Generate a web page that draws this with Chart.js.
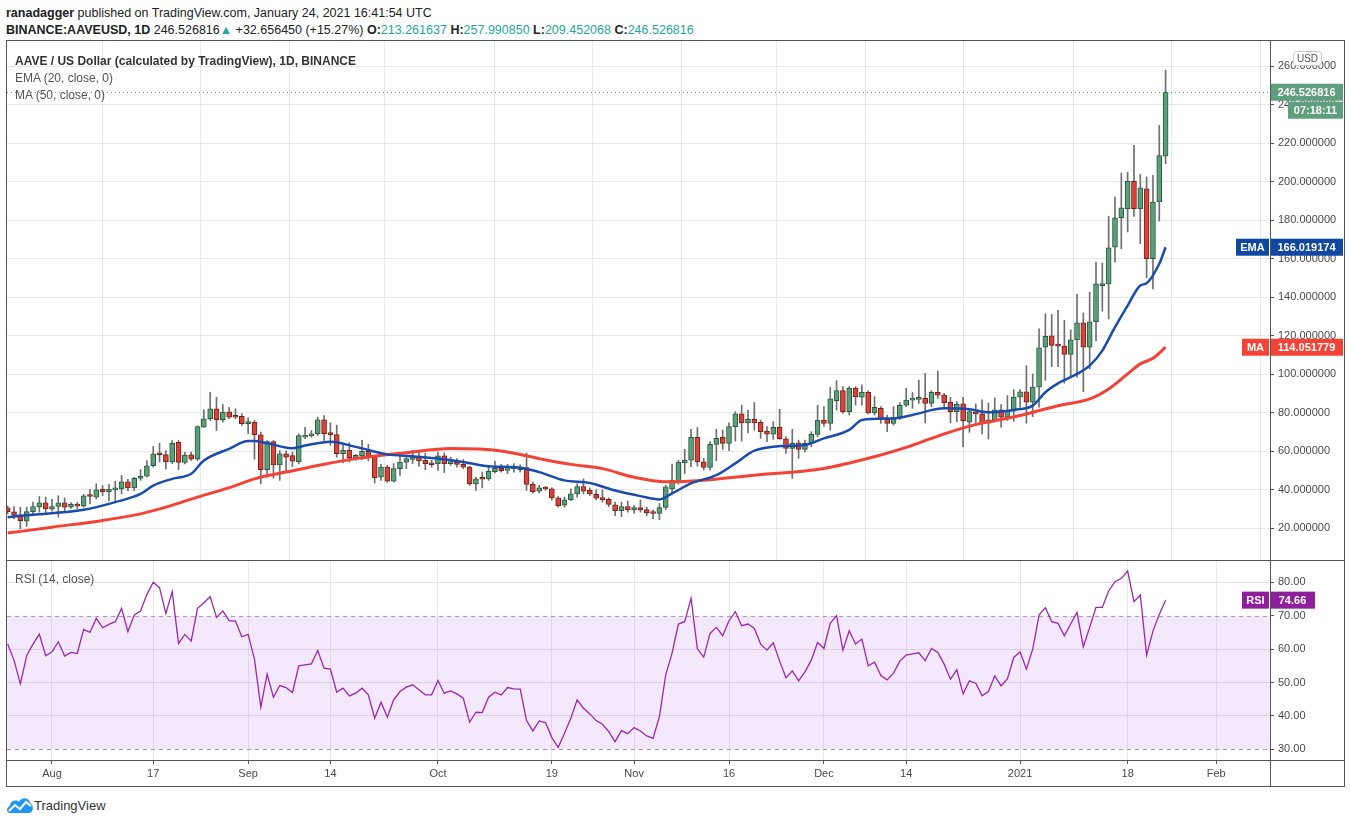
<!DOCTYPE html>
<html>
<head>
<meta charset="utf-8">
<script src="https://cdn.jsdelivr.net/npm/chart.js@4.4.0/dist/chart.umd.min.js"></script>
<style>
  body { margin: 0; background: #fff; width: 1351px; height: 824px; overflow: hidden;
         font-family: "Liberation Sans", Arial, sans-serif; color: #222; }
  .abs { position: absolute; }
  .ln { position: absolute; background: #555; }
  .hdr { position: absolute; left: 6px; font-size: 12.5px; white-space: nowrap; line-height: 14px; }
  .hdr b { font-weight: bold; }
  .up { color: #26a69a; }
  .leg { position: absolute; left: 15px; font-size: 12px; color: #555; white-space: nowrap; line-height: 14px; }
</style>
</head>
<body>
<div class="hdr" style="top:6px"><b>ranadagger</b> published on TradingView.com, January 24, 2021 16:41:54 UTC</div>
<div class="hdr" style="top:23px"><b>BINANCE:AAVEUSD, 1D</b> 246.526816<span class="up">&#9650;</span> +32.656450 (+15.27%) <b>O:</b><span class="up">213.261637</span> <b>H:</b><span class="up">257.990850</span> <b>L:</b><span class="up">209.452068</span> <b>C:</b><span class="up">246.526816</span></div>

<div class="abs" style="left:7px;top:41px;width:1337px;height:519px"><canvas id="priceChart" width="1337" height="519"></canvas></div>
<div class="abs" style="left:7px;top:561px;width:1337px;height:225px"><canvas id="rsiChart" width="1337" height="225"></canvas></div>

<div class="leg" style="top:54px;color:#333;font-weight:bold;font-size:12px">AAVE / US Dollar (calculated by TradingView), 1D, BINANCE</div>
<div class="leg" style="top:71px">EMA (20, close, 0)</div>
<div class="leg" style="top:88px">MA (50, close, 0)</div>
<div class="leg" style="top:572px">RSI (14, close)</div>

<div class="ln" style="left:6px;top:40px;width:1339px;height:1px"></div>
<div class="ln" style="left:6px;top:560px;width:1339px;height:1px"></div>
<div class="ln" style="left:6px;top:760px;width:1339px;height:1px"></div>
<div class="ln" style="left:6px;top:786px;width:1339px;height:1px"></div>
<div class="ln" style="left:6px;top:40px;width:1px;height:747px"></div>
<div class="ln" style="left:1270px;top:40px;width:1px;height:747px"></div>
<div class="ln" style="left:1344px;top:40px;width:1px;height:747px"></div>

<svg class="abs" style="left:6px;top:796px" width="28" height="18" viewBox="0 0 28 18">
  <path d="M4 17 C0 17 0 11 4 10 C4 5 10 3 13 6 C15 1 23 1 24 7 C28 8 28 17 23 17 Z" fill="#2196f3"/>
  <polyline points="3,15 9,9 14,13 20,6 25,10" fill="none" stroke="#fff" stroke-width="2"/>
</svg>
<div class="abs" style="left:34px;top:798px;font-size:13px;color:#333">TradingView</div>

<script>
// day offsets from 1 Aug 2020 (Jul 25 = -7, Jan 24 = 176)
const firstDay = -7;
const tickDays = [0, 16, 31, 44, 61, 79, 92, 107, 122, 135, 153, 170, 184];
const tickLabels = ['Aug', '17', 'Sep', '14', 'Oct', '19', 'Nov', '16', 'Dec', '14', '2021', '18', 'Feb'];
const priceTicks = [20, 40, 60, 80, 100, 120, 140, 160, 180, 200, 220, 240, 260];
const rsiTicks = [30, 40, 50, 60, 70, 80];

const opens = [30.6,28.6,27.0,23.7,28.7,31.1,33.2,29.9,31.3,33.2,31.0,32.4,31.5,36.9,36.2,40.2,39.0,40.0,40.4,44.2,
  41.0,45.9,47.1,52.5,58.7,58.3,54.5,64.6,54.2,58.2,55.9,72.5,76.9,82.1,76.4,80.5,78.1,78.1,74.3,75.1,
  68.6,50.4,65.1,52.9,58.7,57.8,54.5,67.4,68.0,69.1,76.4,69.2,68.7,58.8,60.5,56.7,57.6,60.0,57.4,46.6,
  51.8,44.5,51.0,54.4,55.8,57.0,55.3,53.9,53.6,57.7,53.6,54.3,53.2,51.8,43.1,45.8,45.7,49.4,51.1,50.1,
  51.0,50.4,51.5,42.8,39.3,41.0,40.5,35.8,32.0,34.8,37.9,41.7,39.7,37.6,36.0,35.0,32.2,29.1,31.3,29.6,
  30.8,29.7,28.3,27.7,30.8,40.5,44.1,54.0,55.4,67.2,54.5,51.6,63.6,67.2,64.1,72.8,79.4,74.8,76.6,75.2,
  70.5,68.9,72.4,66.5,61.5,64.4,61.0,64.1,68.8,76.2,74.5,86.3,91.5,80.6,92.7,88.1,90.6,80.0,82.3,76.6,
  74.5,77.6,83.9,86.6,87.0,87.5,84.9,90.6,89.2,85.4,80.6,84.6,75.1,80.5,79.4,74.6,76.3,81.5,77.7,80.8,
  88.1,90.9,85.5,93.3,114.1,120.0,115.5,114.6,110.3,117.9,126.7,114.1,127.3,146.1,147.0,166.1,181.3,186.0,200.2,186.0,
  196.4,160.0,189.5,213.261637];
const highs = [31.5,31.3,31.0,31.0,33.6,36.5,36.2,35.0,36.9,35.8,33.4,33.4,37.6,40.3,43.1,42.2,42.8,44.5,47.5,45.5,
  46.6,50.5,55.2,62.5,64.2,60.4,65.6,65.6,59.4,59.6,73.2,81.6,90.7,88.1,84.3,82.9,82.1,79.5,77.4,76.0,
  70.0,65.6,65.6,60.4,60.2,59.6,69.1,72.5,70.8,77.7,78.6,74.8,73.6,63.1,64.5,58.4,65.7,63.7,57.9,53.2,
  52.7,53.6,57.9,57.9,60.5,60.5,59.1,55.3,59.7,59.1,57.0,56.2,55.7,52.2,46.6,49.2,51.8,54.8,53.2,53.2,
  53.6,53.0,59.1,44.0,42.3,41.7,41.0,36.5,36.2,40.5,43.1,45.7,41.0,40.0,40.0,35.8,33.6,33.6,34.1,31.8,
  34.8,31.0,29.4,32.9,42.4,53.3,55.4,61.0,71.4,72.4,56.3,65.0,71.4,71.0,74.8,80.6,84.0,81.4,85.3,76.2,
  72.8,75.4,81.8,67.6,71.4,65.8,65.8,70.2,84.0,83.2,93.2,96.7,93.6,93.6,93.6,94.4,91.5,88.4,83.2,78.8,
  83.2,85.3,92.7,90.5,97.0,100.5,91.5,101.7,90.1,88.0,85.8,88.0,82.0,84.6,86.7,85.0,87.7,84.3,88.9,92.0,
  92.0,104.5,100.2,123.6,131.5,131.1,133.2,128.0,123.1,141.5,131.9,142.7,158.3,157.8,182.0,192.1,204.5,205.0,218.9,203.8,
  202.5,203.3,229.3,257.990850];
const lows = [27.5,24.9,19.7,21.0,26.6,28.4,27.9,28.9,25.8,28.9,30.3,30.1,31.0,32.7,35.3,37.0,34.4,33.6,37.9,39.6,
  39.6,44.9,46.6,51.8,54.4,50.7,53.5,50.4,53.5,55.2,55.2,72.5,76.0,70.8,75.2,76.9,76.9,73.4,69.1,55.9,
  43.1,46.6,46.1,44.9,49.2,52.1,53.5,66.5,67.4,68.2,65.6,63.1,57.0,53.9,54.4,55.3,55.7,55.0,43.5,44.9,
  44.0,44.0,47.5,51.0,53.6,52.2,50.4,51.8,50.1,49.0,52.7,51.8,51.0,42.3,39.7,41.0,44.9,48.7,49.2,48.4,
  49.2,49.2,39.7,38.3,38.3,39.7,34.8,31.0,31.0,34.4,36.2,37.9,37.0,34.8,33.6,31.3,26.6,26.1,28.4,27.8,
  28.4,26.6,25.0,24.5,29.7,38.1,42.9,48.5,52.0,52.3,50.2,50.2,55.1,61.0,60.3,65.3,65.3,69.6,71.0,66.7,
  65.0,66.2,66.2,58.9,45.9,56.3,59.7,62.4,67.6,73.1,71.0,81.4,79.7,78.8,84.0,84.0,79.4,78.8,74.5,70.2,
  73.6,76.6,83.2,82.3,84.9,74.8,83.2,87.5,83.2,74.8,75.4,62.4,69.9,74.2,69.0,66.4,75.6,72.5,76.0,75.6,
  82.9,74.6,78.0,82.9,96.8,104.0,104.0,95.4,98.8,98.5,91.0,102.8,117.5,132.8,128.8,158.3,165.2,173.9,182.0,167.8,
  150.1,144.4,179.6,209.452068];
const closes = [28.7,26.8,23.9,28.7,31.3,33.2,30.1,31.3,33.2,31.0,32.4,31.5,36.9,36.5,40.0,39.0,40.2,40.6,44.2,41.0,
  45.9,46.9,52.5,58.7,58.2,54.5,64.2,54.2,58.0,55.9,72.9,76.9,82.1,76.4,80.4,77.7,77.7,74.3,75.5,68.6,
  50.4,65.1,52.9,58.7,57.0,54.9,68.2,68.2,69.1,76.4,69.1,68.7,58.8,60.5,56.7,57.9,60.0,57.0,46.3,51.8,
  44.5,51.0,54.4,56.2,57.0,55.0,53.6,53.0,57.7,53.6,54.3,53.2,51.8,43.1,45.7,45.5,49.6,51.1,49.9,52.0,
  52.0,51.8,42.8,39.0,41.0,40.4,35.8,31.7,34.8,37.9,41.7,39.3,37.9,35.7,34.8,32.4,29.1,31.3,29.6,30.8,
  29.6,28.0,27.7,30.8,41.5,45.0,54.4,55.4,67.2,54.5,51.6,63.6,66.7,64.1,72.8,79.4,74.8,76.6,74.8,70.2,
  68.9,72.4,66.5,61.5,64.1,61.0,64.1,68.8,76.2,74.5,87.2,91.5,80.6,92.7,88.4,90.6,80.0,82.8,76.6,74.5,
  77.6,83.9,86.6,87.0,87.5,84.9,90.6,89.1,85.3,80.6,84.4,75.9,80.6,79.4,74.6,76.3,81.5,77.7,80.8,88.1,
  90.9,85.5,93.3,113.7,119.7,115.0,114.6,110.3,117.9,126.7,114.1,127.3,147.0,147.0,165.7,181.3,186.5,200.2,186.0,196.9,
  160.0,189.5,213.6,246.526816];

// EMA 20 and MA 50: [day, value]
const emaLine = [[-7,25.8],[-3,27],[5,29.6],[10,33.6],[14,37.9],[16,42.2],[19,45.7],[22,48.3],[24,55.2],[28,61.3],
  [31,65.3],[32,65.3],[34,64.2],[38,61.6],[40,63],[44,65],[48,62.3],[53,58.4],[57,57.4],[61,56.2],[65,54.4],
  [69,52.2],[74,51.5],[77,49.2],[81,44.9],[85,43.5],[89,39.6],[93,36.7],[96,35],[98,38.1],[101,43.3],[105,47.6],
  [108,53.7],[111,60.3],[115,62.7],[119,63.3],[122,66.7],[126,71.1],[128,76.3],[133,77.1],[136,78.9],[141,82.3],
  [145,81.8],[148,80.3],[152,81.5],[155,83.7],[157,90.7],[159,95.3],[162,100.2],[164,104.5],[166,112.3],
  [168,124.5],[170,135.7],[172,146.1],[173,147.3],[175,157.4],[176,166.019174]];
const maLine = [[-7,17.5],[0,20.6],[8,24.1],[14,27.5],[18,31],[23,36.2],[29,42.2],[32,45.7],[37,49.2],[43,53.3],
  [48,56.2],[56,59.3],[63,61.4],[71,60.2],[77,56.2],[82,53.2],[87,51],[92,46.5],[97,44.2],[103,45],[111,47.6],
  [122,51.1],[130,57.2],[135,62],[140,67.9],[145,73.1],[149,75.9],[154,79.4],[159,83.7],[164,87.2],[167,92.4],
  [170,100.2],[172,105.4],[174,108.3],[176,114.051779]];

// RSI 14, one value per day from Jul 25
const rsiValues = [61.5,56.7,49.6,58,61.5,64.5,58,59.2,62.2,57.9,59,58.7,65.9,65,69.2,66.4,67.4,68.2,72.2,65.2,
  70.2,71.4,76.4,80,78.4,70.7,77.2,61.7,64.4,62.4,72.2,73.9,75.7,69.5,71.4,68.5,68.4,63.7,64.4,57,
  42.6,52.5,45.6,49.1,48.5,47,55,55.3,55.6,59.6,54.3,54,47.1,48.3,46,46.8,48.3,46.3,39.3,44.1,
  39.6,44.8,47.3,48.6,49.3,47.8,46.3,46.3,50.6,46.8,47.5,46.6,45.3,38.1,41.1,41,45.6,47.1,46.3,48.5,
  48.1,48,38.6,35.5,38.5,38,33.5,30.6,34.8,39.3,44.8,42.3,40.6,38.6,37.5,35.3,32.3,
  35.6,34.7,36.5,35.5,34,33.3,39.8,52.3,58.8,67.5,68.2,75.2,60.1,57.6,64.7,66.5,64,68.5,71.2,67,
  67.5,66.2,61.5,59.7,61.9,56.4,51.4,53.5,50.5,53.2,56.7,62,60.2,67.7,70,59.7,65.5,61.5,63,55,
  56.1,52.1,50.8,52.8,56.4,58.2,58.6,58.9,56.5,60.2,59,55.5,51,53.8,46.6,50.5,49.8,46,47.3,52,
  49,51.1,57.5,59.2,54,60,70.2,72.4,68.2,67.7,64,67.5,71,60.7,66.5,72.5,72.5,77.4,80.2,81.2,
  83.4,74.2,76.2,58.2,65.4,70.4,74.66];

const xMin = -7.11, xMax = 192.5;
const axisFont = { family: 'Liberation Sans', size: 11 };
const upFill = '#5d9e7a', upEdge = '#245b3d', dnFill = '#d64538', dnEdge = '#7a1e19';

const bodies = opens.map((o, i) => ({ x: firstDay + i, y: [o, closes[i]] }));
const wicks = lows.map((l, i) => ({ x: firstDay + i, y: [l, highs[i]] }));
const fills = opens.map((o, i) => closes[i] >= o ? upFill : dnFill);
const edges = opens.map((o, i) => closes[i] >= o ? upEdge : dnEdge);

function setTicks(list) {
  return s => { s.ticks = list.map(v => ({ value: v })); };
}
function tag(ctx, x, y, w, text, bg) {
  ctx.fillStyle = bg;
  ctx.fillRect(x, y - 8.5, w, 17);
  ctx.fillStyle = '#fff';
  ctx.font = 'bold 11px "Liberation Sans"';
  ctx.textAlign = 'center';
  ctx.textBaseline = 'middle';
  ctx.fillText(text, x + w / 2, y + 0.5);
}

const priceTags = {
  id: 'priceTags',
  afterDatasetsDraw(chart) {
    const { ctx, chartArea } = chart;
    const y = chart.scales.y.getPixelForValue(closes[closes.length - 1]);
    ctx.save();
    ctx.strokeStyle = upFill;
    ctx.setLineDash([1, 3]);
    ctx.beginPath();
    ctx.moveTo(chartArea.left, Math.round(y) + 0.5);
    ctx.lineTo(chartArea.right, Math.round(y) + 0.5);
    ctx.stroke();
    ctx.restore();
  },
  afterDraw(chart) {
    const { ctx, chartArea } = chart;
    const sy = chart.scales.y;
    const ax = chartArea.right;
    ctx.save();
    const yl = sy.getPixelForValue(closes[closes.length - 1]);
    tag(ctx, ax, yl, 73, '246.526816', '#5e9f7d');
    tag(ctx, ax + 18, yl + 18, 55, '07:18:11', '#5e9f7d');
    const ye = sy.getPixelForValue(166.019174);
    tag(ctx, ax - 34, ye, 33, 'EMA', '#0f47a1');
    tag(ctx, ax, ye, 73, '166.019174', '#0f47a1');
    const ym = sy.getPixelForValue(114.051779);
    tag(ctx, ax - 28, ym, 27, 'MA', '#f44336');
    tag(ctx, ax, ym, 73, '114.051779', '#f44336');
    // currency box
    ctx.fillStyle = '#fff';
    ctx.strokeStyle = '#c8c8c8';
    ctx.beginPath();
    ctx.roundRect(ax + 23.5, 10.5, 28, 14, 3);
    ctx.fill();
    ctx.stroke();
    ctx.fillStyle = '#555';
    ctx.font = '10px "Liberation Sans"';
    ctx.textAlign = 'center';
    ctx.textBaseline = 'middle';
    ctx.fillText('USD', ax + 37.5, 18);
    ctx.restore();
  }
};

new Chart(document.getElementById('priceChart'), {
  type: 'bar',
  data: {
    datasets: [
      { type: 'line', data: emaLine.map(p => ({ x: p[0], y: p[1] })), borderColor: '#1a4cb0', borderWidth: 2.5,
        pointRadius: 0, cubicInterpolationMode: 'monotone', order: 0 },
      { type: 'line', data: maLine.map(p => ({ x: p[0], y: p[1] })), borderColor: '#f44336', borderWidth: 3,
        pointRadius: 0, cubicInterpolationMode: 'monotone', order: 0 },
      { data: bodies, backgroundColor: fills, borderColor: edges, borderWidth: 1, borderSkipped: false,
        barThickness: 5, minBarLength: 2, grouped: false, order: 1 },
      { data: wicks, backgroundColor: '#6f6f6f', barThickness: 1, grouped: false, order: 2 }
    ]
  },
  options: {
    responsive: false,
    animation: false,
    layout: { padding: 0 },
    plugins: { legend: { display: false }, tooltip: { enabled: false } },
    scales: {
      x: {
        type: 'linear', min: xMin, max: xMax, offset: false,
        afterBuildTicks: setTicks(tickDays),
        ticks: { display: false },
        grid: { color: '#e8e8e8', drawTicks: false },
        border: { display: false },
        afterFit(s) { s.height = 0; s.paddingLeft = 0; s.paddingRight = 0; }
      },
      y: {
        position: 'right', min: 3.53, max: 273.14,
        afterBuildTicks: setTicks(priceTicks),
        ticks: { callback: v => v.toFixed(6), color: '#4a4a4a', font: axisFont, padding: 4 },
        grid: { color: '#e8e8e8', tickColor: '#555', tickLength: 4 },
        border: { display: false },
        afterFit(s) { s.width = 74; s.paddingTop = 0; s.paddingBottom = 0; }
      }
    }
  },
  plugins: [priceTags]
});

const rsiBand = {
  id: 'rsiBand',
  beforeDatasetsDraw(chart) {
    const { ctx, chartArea } = chart;
    const sy = chart.scales.y;
    const y70 = sy.getPixelForValue(70), y30 = sy.getPixelForValue(30);
    ctx.save();
    ctx.fillStyle = 'rgba(180, 100, 240, 0.15)';
    ctx.fillRect(chartArea.left, y70, chartArea.right - chartArea.left, y30 - y70);
    ctx.strokeStyle = '#a89aae';
    ctx.setLineDash([4, 4]);
    [y70, y30].forEach(y => {
      ctx.beginPath();
      ctx.moveTo(chartArea.left, Math.round(y) + 0.5);
      ctx.lineTo(chartArea.right, Math.round(y) + 0.5);
      ctx.stroke();
    });
    ctx.restore();
  },
  afterDraw(chart) {
    const { ctx, chartArea } = chart;
    const y = chart.scales.y.getPixelForValue(rsiValues[rsiValues.length - 1]);
    ctx.save();
    tag(ctx, chartArea.right - 28, y, 27, 'RSI', '#8e1f9c');
    tag(ctx, chartArea.right, y, 45, '74.66', '#8e1f9c');
    ctx.restore();
  }
};

new Chart(document.getElementById('rsiChart'), {
  type: 'line',
  data: {
    datasets: [{ data: rsiValues.map((v, i) => ({ x: firstDay + i, y: v })), borderColor: '#9c27b0',
      borderWidth: 1.3, pointRadius: 0, tension: 0 }]
  },
  options: {
    responsive: false,
    animation: false,
    layout: { padding: 0 },
    plugins: { legend: { display: false }, tooltip: { enabled: false } },
    scales: {
      x: {
        type: 'linear', min: xMin, max: xMax, offset: false,
        afterBuildTicks: setTicks(tickDays),
        ticks: { callback: v => tickLabels[tickDays.indexOf(v)], color: '#4a4a4a', font: axisFont,
          autoSkip: false, maxRotation: 0, padding: 3 },
        grid: { color: '#e8e8e8', tickColor: '#555', tickLength: 4 },
        border: { display: false },
        afterFit(s) { s.height = 26; s.paddingLeft = 0; s.paddingRight = 0; }
      },
      y: {
        position: 'right', min: 26.8, max: 86.38,
        afterBuildTicks: setTicks(rsiTicks),
        ticks: { callback: v => v.toFixed(2), color: '#4a4a4a', font: axisFont, padding: 4 },
        grid: { color: c => (c.tick && (c.tick.value === 30 || c.tick.value === 70)) ? 'rgba(0,0,0,0)' : '#e4e0e6',
          tickColor: '#555', tickLength: 4 },
        border: { display: false },
        afterFit(s) { s.width = 74; s.paddingTop = 0; s.paddingBottom = 0; }
      }
    }
  },
  plugins: [rsiBand]
});
</script>
</body>
</html>
